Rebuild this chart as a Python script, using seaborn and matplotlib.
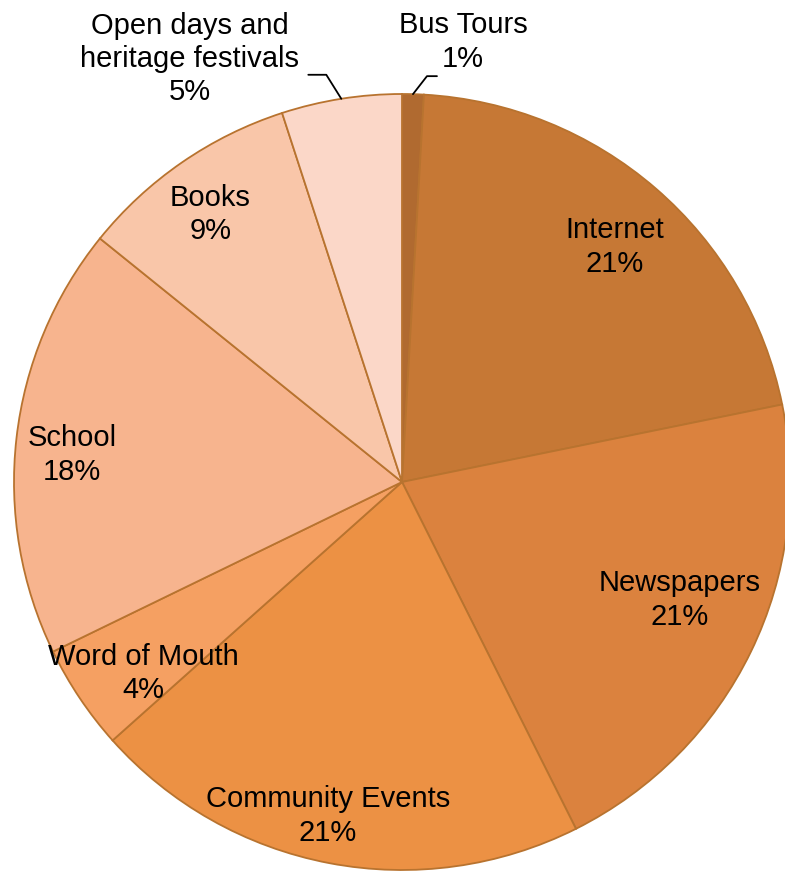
import numpy as np
import matplotlib.pyplot as plt
import seaborn as sns

sns.set_theme(style="white")
plt.rcParams['font.family'] = ['Liberation Sans', 'DejaVu Sans']
plt.rcParams['text.color'] = 'black'

# data, clockwise from 12 o'clock
sources = ['Bus Tours', 'Internet', 'Newspapers', 'Community Events',
           'Word of Mouth', 'School', 'Books', 'Open days and\nheritage festivals']
shares = [0.9, 20.9, 20.8, 20.8, 4.4, 18.0, 9.2, 5.0]
colors = ['#B06A30', '#C67835', '#DB823E', '#EC9144',
          '#F5A062', '#F7B48E', '#F9C6A9', '#FBD7C8']

W, H = 785, 873
fig = plt.figure(figsize=(W / 100, H / 100), dpi=100)
ax = fig.add_axes([0, 0, 1, 1])
cx, cy, R = 402, H - 482, 388

wedges, _ = ax.pie(shares, colors=colors, startangle=90, counterclock=False,
                   center=(cx, cy), radius=R, frame=True,
                   wedgeprops=dict(edgecolor='#B8732F', linewidth=1.3))

# inside labels: (fraction of radius, angle offset from wedge middle in deg)
label_pos = {'Internet': (0.817, -1.3), 'Newspapers': (0.778, 2.9),
             'Community Events': (0.882, -1.7), 'Word of Mouth': (0.83, 2.6),
             'School': (0.853, 1.8), 'Books': (0.848, 1.1)}
fs = 21

for w, name, v in zip(wedges, sources, shares):
    mid_deg = (w.theta1 + w.theta2) / 2
    pct = f"{round(v):d}%"
    if name in label_pos:
        f, off = label_pos[name]
        a = np.deg2rad(mid_deg + off)
        ax.text(cx + f * R * np.cos(a), cy + f * R * np.sin(a),
                f"{name}\n{pct}", ha='center', va='center', fontsize=fs,
                linespacing=1.25, color='black')
    else:
        mid = np.deg2rad(mid_deg)
        ex, ey = cx + R * np.cos(mid), cy + R * np.sin(mid)
        if name == 'Bus Tours':
            ax.plot([ex, ex + 14, ex + 24], [ey, ey + 18, ey + 18],
                    color='black', lw=1.3)
            ax.text(463, H - 42, f"{name}\n{pct}", ha='center', va='center',
                    fontsize=fs, linespacing=1.25, color='black')
        else:
            ax.plot([ex, ex - 15, ex - 33], [ey, ey + 24, ey + 24],
                    color='black', lw=1.3)
            ax.text(190, H - 59, f"{name}\n{pct}", ha='center', va='center',
                    fontsize=fs, linespacing=1.25, color='black')

ax.set_xlim(0, W)
ax.set_ylim(0, H)
ax.set_aspect('equal')
ax.axis('off')

fig.savefig('out.png', dpi=100)
